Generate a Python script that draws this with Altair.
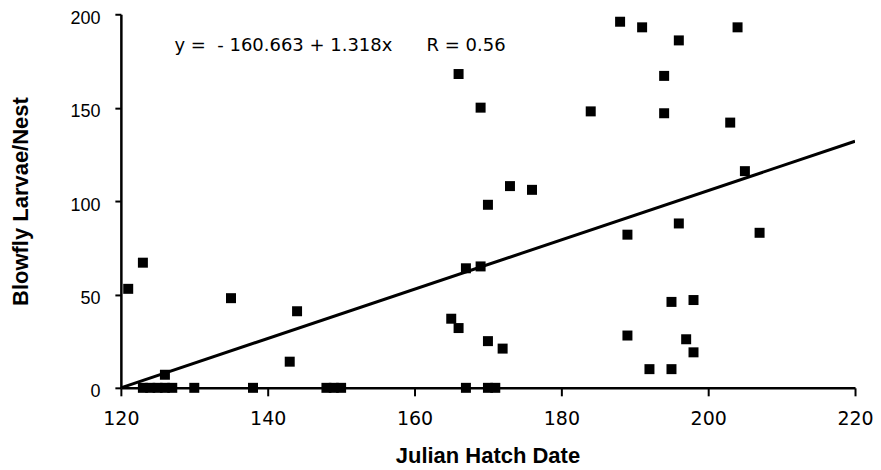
import altair as alt
import pandas as pd

# Scatter data: Julian hatch date vs blowfly larvae per nest
hatch_date = [
    123, 124, 125, 126, 127, 130, 138, 148, 149, 150, 167, 170, 171,
    121, 123, 126, 135, 143, 144, 165, 166, 167, 169, 170, 172,
    166, 169, 170, 173, 176, 184, 188, 191, 204, 196, 194, 194, 203, 205,
    189, 196, 207, 195, 198, 189, 197, 198, 192, 195,
]
larvae = [
    0, 0, 0, 0, 0, 0, 0, 0, 0, 0, 0, 0, 0,
    53, 67, 7, 48, 14, 41, 37, 32, 64, 65, 25, 21,
    168, 150, 98, 108, 106, 148, 196, 193, 193, 186, 167, 147, 142, 116,
    82, 88, 83, 46, 47, 28, 26, 19, 10, 10,
]

# Fitted line as drawn (end points)
line_x = [120, 220]
line_y = [0, 132]

equation_text = ["y =\u00a0\u00a0- 160.663 + 1.318x\u00a0\u00a0\u00a0\u00a0\u00a0\u00a0R = 0.56"]
equation_x = [127.3]
equation_y = [183]

pts = pd.DataFrame({"date": hatch_date, "larvae": larvae})
line_df = pd.DataFrame({"date": line_x, "larvae": line_y})
eq_df = pd.DataFrame({"date": equation_x, "larvae": equation_y, "label": equation_text})

FONT = "Liberation Sans"
WIDE = "DejaVu Sans"

x_scale = alt.Scale(domain=[120, 220], nice=False, zero=False)
y_scale = alt.Scale(domain=[0, 200], nice=False)

x_axis = alt.Axis(
    values=[120, 140, 160, 180, 200, 220], grid=False, title="Julian Hatch Date",
    labelFont=WIDE, labelFontSize=19, labelColor="black", tickColor="black",
    tickSize=8, tickWidth=2, domainColor="black", domainWidth=2.5,
    labelPadding=14, titleFont=FONT, titleFontSize=22, titleFontWeight="bold",
    titleColor="black", titleX=367, titleY=75, titleBaseline="alphabetic",
    labelFlush=False,
)
y_axis = alt.Axis(
    values=[0, 50, 100, 150, 200], grid=False, title="Blowfly Larvae/Nest",
    labelFont=FONT, labelFontSize=18, labelColor="black", tickColor="black",
    tickSize=6, tickWidth=2, domainColor="black", domainWidth=2.5,
    labelPadding=15, labelOffset=4, titleFont=FONT, titleFontSize=22,
    titleFontWeight="bold", titleColor="black", titleX=-93, titleY=187,
    titleAngle=-90, titleBaseline="alphabetic", titleAlign="center",
    labelFlush=False,
)

points = alt.Chart(pts).mark_square(size=100, color="black", opacity=1, filled=True).encode(
    x=alt.X("date:Q", scale=x_scale, axis=x_axis),
    y=alt.Y("larvae:Q", scale=y_scale, axis=y_axis),
)

reg = alt.Chart(line_df).mark_line(color="black", strokeWidth=3, clip=True).encode(
    x=alt.X("date:Q", scale=x_scale),
    y=alt.Y("larvae:Q", scale=y_scale),
)

eq = alt.Chart(eq_df).mark_text(
    align="left", baseline="middle", font=WIDE, fontSize=18, color="black"
).encode(
    x=alt.X("date:Q", scale=x_scale),
    y=alt.Y("larvae:Q", scale=y_scale),
    text="label:N",
)

chart = (
    alt.layer(reg, points, eq)
    .properties(
        width=735, height=374,
        autosize=alt.AutoSizeParams(type="none"),
        padding={"left": 113, "top": 6, "right": 18, "bottom": 82},
        background="white",
    )
    .configure_view(stroke=None)
)

chart.save("out.html", embed_options={"renderer": "svg", "actions": False})
